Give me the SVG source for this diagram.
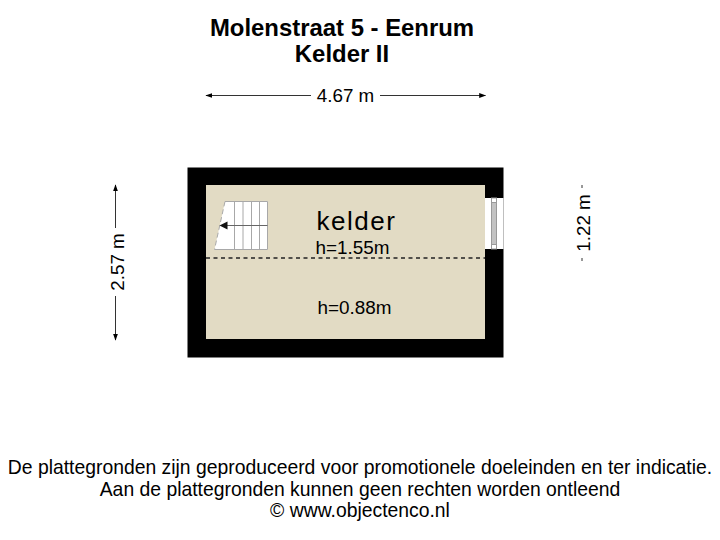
<svg xmlns="http://www.w3.org/2000/svg" width="720" height="540" viewBox="0 0 720 540">
<defs>
<style>
text{font-family:"Liberation Sans",Arial,sans-serif;fill:#000;text-anchor:middle}
.t{font-size:23.9px;font-weight:bold}
.d{font-size:18.8px}
.f{font-size:19.35px}
.g{stroke:#a8a8a8;stroke-width:1;fill:none}
.c{stroke:#333;stroke-width:1;fill:none}
</style>
<marker id="a" viewBox="0 0 10 10" refX="9" refY="5" markerWidth="7" markerHeight="7" markerUnits="userSpaceOnUse" orient="auto-start-reverse"><path d="M0 1.5L10 5L0 8.5Z" fill="#000"/></marker>
</defs>
<rect width="720" height="540" fill="#fff"/>
<g id="title">
<text class="t" x="342" y="36">Molenstraat 5 - Eenrum</text>
<text class="t" x="342" y="62">Kelder II</text>
</g>
<g id="room">
<path d="M187.500 167.500H503.500V357.500H187.500Z" fill="#000"/>
<rect x="206" y="185" width="279" height="154" fill="#e2dbc4"/>
<rect x="485" y="198" width="18.500" height="51" fill="#fff"/>
</g>
<g id="window">
<rect x="491.500" y="198" width="5" height="51" fill="#fff" stroke="#999" stroke-width="1"/>
<rect x="491.500" y="202.500" width="5" height="42" fill="#c2c2c2" stroke="#999" stroke-width="1"/>
</g>
<g id="stairs">
<path d="M225 201.500H268V249.500H214.500Z" fill="#fff"/>
<path class="g" d="M225 201.500H267.500V249.500H214.500M234.500 202V249M243 202V249M251.500 202V249M259.500 202V249"/>
<path d="M221 225.500H267.500" stroke="#666" stroke-width="1" fill="none"/>
<path d="M225 201.500L214.500 249.500" stroke="#aaa" stroke-width="1" stroke-dasharray="5 3" fill="none"/>
<path d="M219.500 225.500L227.500 221.500V229.500Z" fill="#111"/>
</g>
<g id="labels">
<text x="356.500" y="230" style="font-size:26px;letter-spacing:1.500px">kelder</text>
<text x="352.500" y="253.500" style="font-size:18.900px">h=1.55m</text>
<text x="354.500" y="314" style="font-size:18.900px">h=0.88m</text>
</g>
<g id="connectors">
<path d="M206 258H485" stroke="#222" stroke-width="1.300" stroke-dasharray="4 3.500" fill="none"/>
<path class="c" marker-start="url(#a)" d="M206 95.500H311"/>
<path class="c" marker-end="url(#a)" d="M380 95.500H485.500"/>
<path class="c" marker-start="url(#a)" d="M115.500 185V228"/>
<path class="c" marker-end="url(#a)" d="M115.500 296V340"/>
<path class="c" d="M582 185V188M582 258V261"/>
</g>
<g id="dimensions">
<text class="d" x="345.500" y="102">4.67 m</text>
<text class="d" transform="translate(123.500 262) rotate(-90)">2.57 m</text>
<text class="d" transform="translate(589.500 223) rotate(-90)">1.22 m</text>
</g>
<g id="footer">
<text class="f" x="360" y="474">De plattegronden zijn geproduceerd voor promotionele doeleinden en ter indicatie.</text>
<text class="f" x="360" y="496">Aan de plattegronden kunnen geen rechten worden ontleend</text>
<text class="f" x="360" y="517">© www.objectenco.nl</text>
</g>
</svg>
